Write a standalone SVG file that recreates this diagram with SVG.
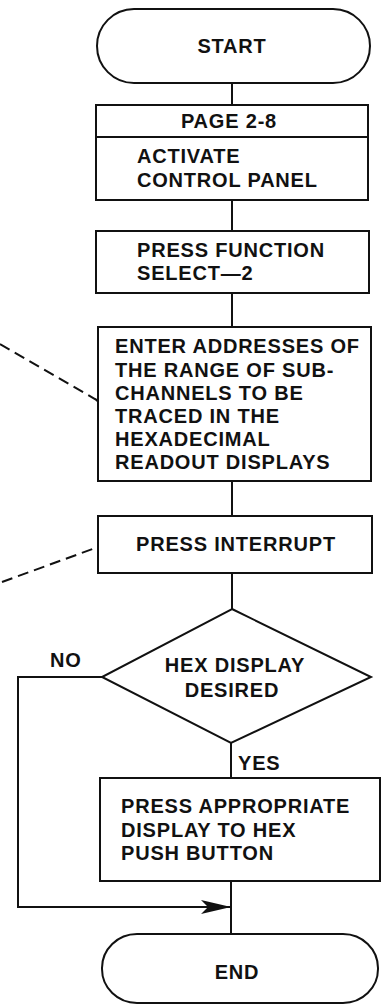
<svg xmlns="http://www.w3.org/2000/svg" width="382" height="1006" viewBox="0 0 382 1006">
<defs>
<style>
.s{fill:#fff;stroke:#111;stroke-width:2}
.c{fill:none;stroke:#111;stroke-width:2}
.d{fill:none;stroke:#111;stroke-width:2;stroke-dasharray:11 6}
text{font-family:"Liberation Sans",Arial,sans-serif;font-weight:bold;font-size:20px;letter-spacing:0.8px;fill:#111}
.m{text-anchor:middle}
</style>
<marker id="ah" markerWidth="30" markerHeight="14" refX="30" refY="7" orient="auto" markerUnits="userSpaceOnUse">
<path d="M0,0 L30,7 L0,14 L7,7 Z" fill="#111"/>
</marker>
</defs>
<rect width="382" height="1006" fill="#fff"/>
<g id="connectors">
<line class="c" x1="232" y1="83" x2="232" y2="105"/>
<line class="c" x1="232" y1="200" x2="232" y2="231"/>
<line class="c" x1="232" y1="293" x2="232" y2="327"/>
<line class="c" x1="232" y1="481" x2="232" y2="516"/>
<line class="c" x1="232" y1="573" x2="232" y2="609"/>
<line class="c" x1="231" y1="743" x2="231" y2="778"/>
<line class="c" x1="231" y1="881" x2="231" y2="934"/>
<path class="c" d="M102,677 H18 V907 H231" marker-end="url(#ah)"/>
<path class="d" d="M0,344 L95,399 Q97,400 98,402"/>
<path class="d" d="M2,582 L98,547"/>
</g>
<g id="start">
<rect class="s" x="97" y="9" width="273" height="74" rx="37" ry="37"/>
<text class="m" x="232" y="53">START</text>
</g>
<g id="activate">
<rect class="s" x="96" y="105" width="272" height="95"/>
<line class="c" x1="96" y1="137" x2="368" y2="137"/>
<text class="m" x="229" y="128">PAGE 2-8</text>
<text x="137" y="163">ACTIVATE</text>
<text x="137" y="187">CONTROL PANEL</text>
</g>
<g id="function">
<rect class="s" x="96" y="231" width="273" height="62"/>
<text x="137" y="257">PRESS FUNCTION</text>
<text x="137" y="280">SELECT—2</text>
</g>
<g id="enter">
<rect class="s" x="98" y="327" width="273" height="154"/>
<text x="115" y="353">ENTER ADDRESSES OF</text>
<text x="115" y="377">THE RANGE OF SUB-</text>
<text x="115" y="400">CHANNELS TO BE</text>
<text x="115" y="423">TRACED IN THE</text>
<text x="115" y="446">HEXADECIMAL</text>
<text x="115" y="469">READOUT DISPLAYS</text>
</g>
<g id="interrupt">
<rect class="s" x="98" y="516" width="274" height="57"/>
<text class="m" x="236" y="551">PRESS INTERRUPT</text>
</g>
<g id="decision">
<polygon class="s" points="232,609 371,677 231,743 102,677"/>
<text class="m" x="235" y="672">HEX DISPLAY</text>
<text class="m" x="232" y="697">DESIRED</text>
<text x="50" y="667">NO</text>
<text x="238" y="770">YES</text>
</g>
<g id="hexbutton">
<rect class="s" x="100" y="778" width="280" height="103"/>
<text x="121" y="813">PRESS APPROPRIATE</text>
<text x="121" y="837">DISPLAY TO HEX</text>
<text x="121" y="860">PUSH BUTTON</text>
</g>
<g id="end">
<rect class="s" x="102" y="934" width="276" height="69" rx="35" ry="34"/>
<text class="m" x="237" y="979">END</text>
</g>
</svg>
